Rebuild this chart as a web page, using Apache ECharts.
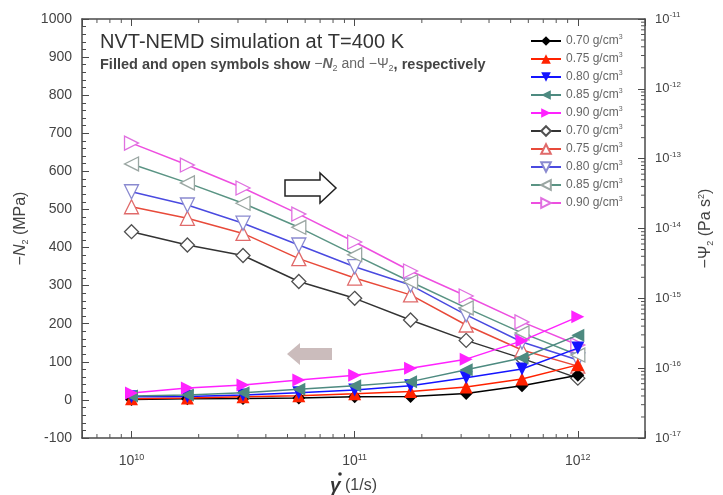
<!DOCTYPE html>
<html>
<head>
<meta charset="utf-8">
<script src="https://cdn.jsdelivr.net/npm/echarts@6/dist/echarts.min.js"></script>
<style>
html, body { margin: 0; padding: 0; background: #fff; }
#main { width: 723px; height: 495px; }
</style>
</head>
<body>
<div id="main"></div>
<script>
// shear rates (1/s)
var shearRate = [1e10, 1.78e10, 3.16e10, 5.62e10, 1e11, 1.78e11, 3.16e11, 5.62e11, 1e12];
var densities = ['0.70', '0.75', '0.80', '0.85', '0.90'];

// -N2 (MPa), filled symbols, left axis
var n2_070 = [1, 3, 4, 5, 8, 9, 17, 37, 65];
var n2_075 = [3, 5, 8, 11, 16, 22, 34, 55, 92];
var n2_080 = [8, 9, 13, 19, 26, 37, 58, 81, 136];
var n2_085 = [10, 13, 19, 28, 37, 48, 79, 110, 170];
var n2_090 = [18, 31, 39, 52, 65, 83, 107, 155, 218];

// -Psi2 (Pa s^2), open symbols, right axis
var psi2_070 = [9.0e-15, 5.8e-15, 4.1e-15, 1.74e-15, 1.0e-15, 4.9e-16, 2.5e-16, 1.38e-16, 7.2e-17];
var psi2_075 = [2.05e-14, 1.4e-14, 8.5e-15, 3.7e-15, 1.95e-15, 1.12e-15, 4.15e-16, 1.82e-16, 1.07e-16];
var psi2_080 = [3.36e-14, 2.17e-14, 1.19e-14, 5.8e-15, 2.84e-15, 1.55e-15, 5.8e-16, 2.37e-16, 1.31e-16];
var psi2_085 = [8.4e-14, 4.5e-14, 2.3e-14, 1.04e-14, 4.2e-15, 1.73e-15, 7.3e-16, 3.2e-16, 1.54e-16];
var psi2_090 = [1.67e-13, 8.1e-14, 3.8e-14, 1.61e-14, 6.4e-15, 2.46e-15, 1.08e-15, 4.6e-16, 2.15e-16];

var xMinorTicks = [7e9, 8e9, 9e9,
    2e10, 3e10, 4e10, 5e10, 6e10, 7e10, 8e10, 9e10,
    2e11, 3e11, 4e11, 5e11, 6e11, 7e11, 8e11, 9e11];
var yMinorDigits = [2, 3, 4, 5, 6, 7, 8, 9];
var yDecades = [-17, -16, -15, -14, -13, -12];

var X_MIN = 6e9, X_MAX = 2e12;
var Y_MIN = -100, Y_MAX = 1000;

var SYM_DOWN = 'path://M0,0 L10,0 L5,10 Z';
var SYM_LEFT = 'path://M10,0 L10,10 L0,5 Z';
var SYM_RIGHT = 'path://M0,0 L10,5 L0,10 Z';

var filledSets = [n2_070, n2_075, n2_080, n2_085, n2_090];
var openSets = [psi2_070, psi2_075, psi2_080, psi2_085, psi2_090];
var filledColor = ['#000000', '#ff2200', '#1414ff', '#4d8a80', '#ff22ff'];
var filledSymbol = ['diamond', 'triangle', SYM_DOWN, SYM_LEFT, SYM_RIGHT];
var openLine = ['#333333', '#e84a3a', '#4a4ae0', '#5a9484', '#ee4ee0'];
var openEdge = ['#505050', '#e06a6a', '#8a8ad0', '#9aa6a2', '#e070e0'];

function pairs(arr) {
    return shearRate.map(function (x, i) { return [x, arr[i]]; });
}

function powLabel(v) {
    var e = Math.round(Math.log10(v));
    if (Math.abs(Math.log10(v) - e) > 1e-6) return '';
    return '10{s|' + e + '}';
}

var series = [];
var legendData = [];
var legendText = {};

for (var i = 0; i < 5; i++) {
    var name = 'f' + i;
    legendData.push(name);
    legendText[name] = densities[i] + ' g/cm{s|3}';
    series.push({
        name: name,
        type: 'line',
        xAxisIndex: 0,
        yAxisIndex: 0,
        data: pairs(filledSets[i]),
        symbol: filledSymbol[i],
        symbolSize: 13,
        showSymbol: true,
        lineStyle: { color: filledColor[i], width: 1.5 },
        itemStyle: { color: filledColor[i], borderWidth: 0 },
        z: 3
    });
}
for (var j = 0; j < 5; j++) {
    var oname = 'o' + j;
    legendData.push(oname);
    legendText[oname] = densities[j] + ' g/cm{s|3}';
    series.push({
        name: oname,
        type: 'line',
        xAxisIndex: 0,
        yAxisIndex: 1,
        data: pairs(openSets[j]),
        symbol: filledSymbol[j],
        symbolSize: 14,
        showSymbol: true,
        lineStyle: { color: openLine[j], width: 1.5 },
        itemStyle: { color: '#ffffff', borderColor: openEdge[j], borderWidth: 1.3 },
        z: 2
    });
}

// minor log ticks on bottom/top edges
series.push({
    type: 'custom',
    xAxisIndex: 0,
    yAxisIndex: 0,
    silent: true,
    clip: false,
    data: xMinorTicks.map(function (v) { return [v, 0]; }),
    renderItem: function (params, api) {
        var b = api.coord([api.value(0), Y_MIN]);
        var t = api.coord([api.value(0), Y_MAX]);
        return {
            type: 'group',
            children: [
                { type: 'line', shape: { x1: b[0], y1: b[1], x2: b[0], y2: b[1] - 4 }, style: { stroke: '#555', lineWidth: 1 } },
                { type: 'line', shape: { x1: t[0], y1: t[1], x2: t[0], y2: t[1] + 4 }, style: { stroke: '#555', lineWidth: 1 } }
            ]
        };
    }
});

// minor log ticks on right edge
var yMinorTicks = [];
yDecades.forEach(function (d) {
    yMinorDigits.forEach(function (k) { yMinorTicks.push(k * Math.pow(10, d)); });
});
series.push({
    type: 'custom',
    xAxisIndex: 0,
    yAxisIndex: 1,
    silent: true,
    clip: false,
    data: yMinorTicks.map(function (v) { return [X_MAX, v]; }),
    renderItem: function (params, api) {
        var p = api.coord([X_MAX, api.value(1)]);
        return { type: 'line', shape: { x1: p[0], y1: p[1], x2: p[0] - 4, y2: p[1] }, style: { stroke: '#555', lineWidth: 1 } };
    }
});

var FONT = '"Liberation Sans", Arial, sans-serif';
var axisCol = '#4a4a4a';

var option = {
    animation: false,
    backgroundColor: '#fff',
    textStyle: { fontFamily: FONT },
    grid: { left: 82, right: 78, top: 19, bottom: 57 },
    legend: {
        data: legendData,
        orient: 'vertical',
        left: 525,
        top: 29,
        itemWidth: 30,
        itemHeight: 12,
        itemGap: 5,
        formatter: function (name) { return legendText[name]; },
        textStyle: {
            color: '#666', fontSize: 12, fontFamily: FONT,
            rich: { s: { fontSize: 7, color: '#666', padding: [0, 0, 7, 0] } }
        }
    },
    xAxis: [{
        type: 'log',
        min: X_MIN,
        max: X_MAX,
        logBase: 10,
        position: 'bottom',
        axisLine: { show: true, onZero: false, lineStyle: { color: axisCol, width: 1.5 } },
        axisTick: { show: true, inside: true, length: 7, lineStyle: { color: axisCol } },
        axisLabel: {
            formatter: powLabel, color: '#444', fontSize: 14, margin: 15,
            rich: { s: { fontSize: 9, color: '#444', padding: [0, 0, 8, 0] } }
        },
        splitLine: { show: false }
    }, {
        type: 'log',
        min: X_MIN,
        max: X_MAX,
        logBase: 10,
        position: 'top',
        axisLine: { show: true, onZero: false, lineStyle: { color: axisCol, width: 1.5 } },
        axisTick: { show: true, inside: true, length: 7, lineStyle: { color: axisCol } },
        axisLabel: { show: false },
        splitLine: { show: false }
    }],
    yAxis: [{
        type: 'value',
        min: Y_MIN,
        max: Y_MAX,
        interval: 100,
        position: 'left',
        name: '{t|−}{i|N}{s|2}{t| (MPa)}',
        nameLocation: 'middle',
        nameRotate: 90,
        nameGap: 52,
        nameTextStyle: {
            rich: {
                t: { fontSize: 16, color: '#444', fontFamily: FONT },
                i: { fontSize: 16, color: '#444', fontStyle: 'italic', fontFamily: FONT },
                s: { fontSize: 9, color: '#444', padding: [9, 0, 0, 0], fontFamily: FONT }
            }
        },
        axisLine: { show: true, onZero: false, lineStyle: { color: axisCol, width: 1.5 } },
        axisTick: { show: true, inside: true, length: 7, lineStyle: { color: axisCol } },
        minorTick: { show: true, splitNumber: 5, length: 4, lineStyle: { color: axisCol } },
        axisLabel: { color: '#444', fontSize: 14, margin: 10, formatter: function (v) { return String(v); } },
        splitLine: { show: false }
    }, {
        type: 'log',
        min: 1e-17,
        max: 1e-11,
        logBase: 10,
        position: 'right',
        name: '{t|−Ψ}{s|2}{t| (Pa s}{p|2}{t|)}',
        nameLocation: 'middle',
        nameRotate: 90,
        nameGap: 52,
        nameTextStyle: {
            rich: {
                t: { fontSize: 16, color: '#444', fontFamily: FONT },
                s: { fontSize: 9, color: '#444', padding: [9, 0, 0, 0], fontFamily: FONT },
                p: { fontSize: 9, color: '#444', padding: [0, 0, 9, 0], fontFamily: FONT }
            }
        },
        axisLine: { show: true, onZero: false, lineStyle: { color: axisCol, width: 1.5 } },
        axisTick: { show: true, inside: true, length: 7, lineStyle: { color: axisCol } },
        axisLabel: {
            formatter: powLabel, color: '#444', fontSize: 13, margin: 10,
            rich: { s: { fontSize: 8, color: '#444', padding: [0, 0, 8, 0] } }
        },
        splitLine: { show: false }
    }],
    graphic: [{
        type: 'text',
        left: 100,
        top: 32,
        style: { text: 'NVT-NEMD simulation at T=400 K', fontSize: 20, fontFamily: FONT, fill: '#333' }
    }, {
        type: 'text',
        left: 100,
        top: 57,
        style: {
            text: 'Filled and open symbols show {n|−}{i|N}{s|2}{n| and −Ψ}{s|2}, respectively',
            fontSize: 14.5, fontWeight: 'bold', fontFamily: FONT, fill: '#444',
            rich: {
                n: { fontSize: 14, fontFamily: FONT, fill: '#666' },
                i: { fontSize: 14, fontStyle: 'italic', fontWeight: 'bold', fontFamily: FONT, fill: '#666' },
                s: { fontSize: 9, fontFamily: FONT, fill: '#666', padding: [8, 0, 0, 0] }
            }
        }
    }, {
        type: 'text',
        left: 330,
        top: 476,
        style: {
            text: '{g|γ}{t| (1/s)}',
            rich: {
                g: { fontSize: 19, fontStyle: 'italic', fontWeight: 'bold', fontFamily: FONT, fill: '#333' },
                t: { fontSize: 16, fontFamily: FONT, fill: '#444' }
            }
        }
    }, {
        type: 'circle',
        shape: { cx: 340, cy: 474, r: 1.8 },
        style: { fill: '#333' }
    }, {
        type: 'polygon',
        shape: { points: [[285, 180], [320, 180], [320, 173], [336, 188], [320, 203], [320, 196], [285, 196]] },
        style: { fill: '#fff', stroke: '#222', lineWidth: 1.5 }
    }, {
        type: 'polygon',
        shape: { points: [[332, 348], [300, 348], [300, 343], [287, 354], [300, 365], [300, 360], [332, 360]] },
        style: { fill: '#cbbcbc', stroke: 'none' }
    }],
    series: series
};

var myChart = echarts.init(document.getElementById('main'));
myChart.setOption(option);
</script>
</body>
</html>
